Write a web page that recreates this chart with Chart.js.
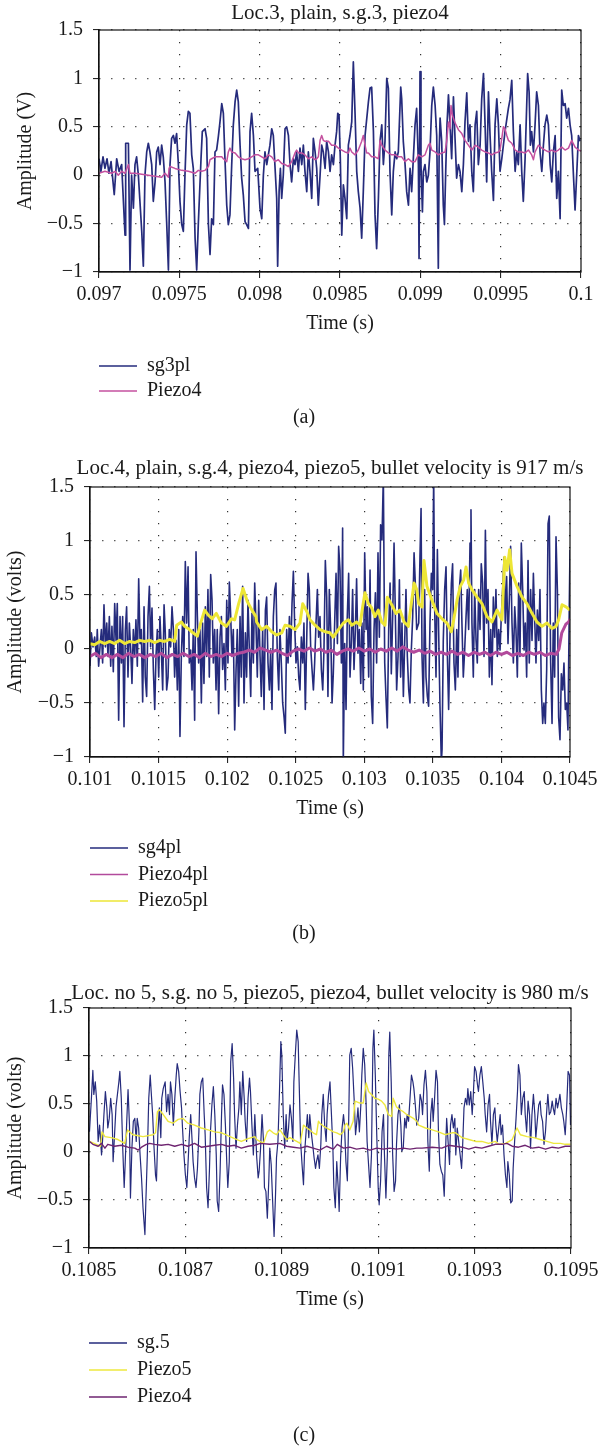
<!DOCTYPE html>
<html>
<head>
<meta charset="utf-8">
<script src="https://cdn.jsdelivr.net/npm/chart.js@4.4.1/dist/chart.umd.min.js"></script>
<style>
  body { margin: 0; background: #fff; width: 613px; height: 1447px; position: relative; overflow: hidden; }
  .panel { position: absolute; left: 0; width: 613px; }
</style>
</head>
<body>
<div class="panel" style="top:0;height:450px"><canvas id="chartA"></canvas></div>
<div class="panel" style="top:450px;height:500px"><canvas id="chartB"></canvas></div>
<div class="panel" style="top:975px;height:472px"><canvas id="chartC"></canvas></div>
<script>
// ---- axes ----
const yTicks = [-1, -0.5, 0, 0.5, 1, 1.5];
const xTicksA = [0.097, 0.0975, 0.098, 0.0985, 0.099, 0.0995, 0.1];
const xTicksB = [0.101, 0.1015, 0.102, 0.1025, 0.103, 0.1035, 0.104, 0.1045];
const xTicksC = [0.1085, 0.1087, 0.1089, 0.1091, 0.1093, 0.1095];

// ---- (a) times in microseconds after 0.097 s, amplitudes in V ----
const startA = 0.097;
const sg3Us = [0,12,25,37,50,62,75,89,95,110,125,141,162,166,183,193,203,214,224,234,245,266,276,286,297,307,317,328,338,349,359,369,380,390,400,411,421,432,442,452,463,473,483,494,504,515,525,535,546,556,566,577,587,598,608,618,635,643,660,670,681,691,701,712,722,732,743,753,764,774,784,795,805,815,826,836,847,857,867,878,888,898,909,919,930,940,950,961,971,988,
1002,1013,1023,1033,1044,1054,1064,1075,1085,1096,1106,1112,1121,1129,1137,1147,1158,1168,1179,1189,1199,1210,1220,1230,1241,1251,1262,1272,1282,1293,1303,1313,1324,1334,1345,1355,1365,1376,1386,1396,1407,1417,1428,1438,1448,1459,1469,1479,1486,1494,1502,1511,1521,1531,1542,1552,1562,1573,1583,1594,1604,1614,1625,1635,1645,1656,1677,1687,1697,1708,1718,1728,1739,1749,1760,1770,1780,1791,1801,1811,1822,1832,1843,1853,1863,1878,1884,1894,1905,1915,1926,1936,1946,
1967,1977,1988,1992,1998,2004,2013,2019,2029,2040,2050,2060,2071,2081,2092,2102,2112,2117,2123,2133,2143,2150,2158,2166,2175,2185,2195,2206,2216,2226,2237,2247,2258,2268,2278,2289,2299,2309,2320,2330,2341,2351,2361,2372,2382,2393,2403,2413,2424,2434,2444,2455,2465,2476,2486,2496,2507,2517,2527,2548,2558,2569,2579,2590,2600,2610,2621,2631,2641,2652,2662,2668,2677,2685,2693,2704,2714,2724,2735,2745,2756,2766,2776,2787,2797,2808,2818,2828,2839,2849,2859,2870,2880,2890,2901,2911,2922,2932,2942,2953,2963,2973,2984,2994];
const sg3Amp = [0.17,0.04,0.19,0.07,0.17,0.02,0.14,-0.10,-0.20,0.17,0.04,0.11,-0.62,0.33,0.33,-0.98,0.00,-0.34,0.11,0.19,0.00,-0.58,-0.94,0.00,0.24,0.33,0.24,0.11,-0.27,-0.07,0.24,0.29,0.11,0.31,0.19,-0.07,-0.48,-0.98,0.11,0.38,0.41,0.33,0.43,0.11,-0.27,-0.51,-0.58,0.00,0.52,0.66,0.64,0.21,0.07,-0.65,-0.98,-0.51,0.17,0.45,0.48,0.38,-0.51,-0.82,-0.45,-0.51,0.24,0.26,0.40,0.55,0.74,0.64,0.17,-0.31,-0.51,-0.41,0.11,0.52,0.76,0.88,0.76,0.31,-0.03,-0.20,-0.48,-0.51,-0.55,0.45,0.64,0.41,0.04,0.07,
-0.34,-0.45,0.00,0.24,0.11,0.21,0.31,0.48,0.41,0.07,-0.24,-0.94,-0.17,0.07,-0.24,0.00,0.48,0.50,0.41,0.11,-0.07,0.17,0.11,0.24,0.04,0.28,0.11,0.31,0.04,-0.17,0.24,0.04,-0.24,0.38,0.24,0.07,-0.31,0.00,0.31,0.24,0.07,0.35,0.24,0.04,0.21,0.11,0.31,0.45,0.64,0.62,0.17,-0.62,-0.10,-0.24,-0.45,0.31,0.41,0.55,1.17,0.62,0.04,-0.17,-0.34,-0.65,-0.17,0.41,0.76,0.90,0.91,0.45,-0.41,-0.76,-0.24,0.35,0.52,0.11,0.35,1.00,0.90,0.04,-0.41,0.04,0.24,0.17,0.24,0.91,0.79,0.35,0.11,-0.17,-0.31,0.07,-0.17,
0.52,0.69,0.11,-0.86,1.07,0.11,-0.38,0.04,0.11,-0.07,0.00,0.24,0.72,0.91,0.72,0.41,-0.96,0.24,0.59,0.35,-0.31,-0.51,0.04,0.52,0.83,0.52,0.17,0.81,0.38,-0.03,0.11,0.04,-0.17,0.11,0.55,0.85,0.35,0.52,0.04,-0.17,0.52,0.66,0.11,0.31,0.79,1.05,0.52,-0.07,0.86,0.41,0.04,-0.26,0.52,0.79,0.52,0.04,0.17,0.31,0.45,0.69,0.78,0.98,0.45,0.04,0.24,0.11,0.52,0.04,-0.27,0.17,0.72,1.05,0.86,0.31,0.45,0.24,0.52,0.86,0.72,0.24,0.04,0.31,0.52,0.62,0.52,0.11,-0.07,0.24,0.41,-0.24,0.04,-0.45,0.88,0.72,0.74,0.59,0.69,0.52,0.41,0.00,-0.36,0.00,0.41,0.35];
const piezo4aUs = [0,37,79,100,120,141,162,183,193,224,266,307,349,390,411,432,436,442,473,515,556,598,618,639,660,681,691,701,722,743,764,774,795,805,815,826,847,867,888,909,930,950,971,992,1013,1033,1054,1075,1096,1116,1137,1158,1179,1199,1220,1230,1241,1262,1282,1303,1324,1345,1355,1365,1376,1386,1396,1407,1428,1448,1469,1490,1511,1531,1552,1562,1573,1594,1614,1635,1645,1656,1666,1677,1697,1718,1739,1749,1760,1780,1801,1822,1843,1863,1884,1905,1926,1946,1967,1988,2009,2029,2050,2060,2071,2092,2112,2133,2154,2164,2175,2185,2191,2200,2216,2237,2258,2278,2299,2320,2341,2361,2382,2403,2424,2444,2465,2486,2496,2507,2517,2527,2538,2548,2569,2590,2610,2631,2652,2673,2693,2704,2714,2735,2756,2776,2797,2818,2839,2859,2880,2901,2922,2942,2963,2984,3000];
const piezo4aAmp = [0.02,0.04,0.02,0.04,0.00,0.04,0.02,0.11,0.02,0.02,0.01,0.00,-0.01,-0.02,0.02,-0.02,0.07,0.09,0.07,0.05,0.04,0.02,0.05,0.04,0.05,0.09,0.16,0.17,0.19,0.19,0.19,0.17,0.14,0.24,0.28,0.24,0.23,0.19,0.17,0.16,0.17,0.19,0.21,0.21,0.19,0.17,0.21,0.19,0.14,0.16,0.12,0.11,0.09,0.14,0.23,0.26,0.23,0.23,0.21,0.17,0.19,0.16,0.17,0.19,0.36,0.41,0.36,0.35,0.35,0.31,0.31,0.28,0.26,0.24,0.23,0.28,0.24,0.21,0.26,0.35,0.41,0.31,0.23,0.23,0.19,0.19,0.17,0.36,0.31,0.26,0.23,0.21,0.21,0.19,0.19,0.14,0.17,0.14,0.14,0.21,0.19,0.21,0.31,0.33,0.26,0.24,0.21,0.23,0.24,0.35,0.55,0.48,0.72,0.62,0.54,0.47,0.43,0.36,0.31,0.26,0.31,0.29,0.26,0.24,0.23,0.21,0.23,0.24,0.26,0.38,0.50,0.48,0.41,0.36,0.33,0.26,0.24,0.24,0.23,0.26,0.21,0.16,0.24,0.31,0.28,0.26,0.24,0.26,0.24,0.26,0.29,0.26,0.28,0.36,0.29,0.26,0.25];

// ---- (b) times in microseconds after 0.101 s, amplitudes in volts ----
const startB = 0.101;
const sg4Us = [0,10,22,34,46,53,63,73,83,92,102,112,122,131,141,151,160,170,180,190,199,209,219,229,238,248,258,267,277,287,297,306,316,326,335,345,355,365,374,384,394,403,413,423,433,442,452,462,472,481,491,501,510,520,530,540,549,559,569,578,588,598,608,617,627,637,647,656,666,676,685,695,705,715,724,734,744,753,763,773,783,792,802,812,821,831,841,851,860,870,880,890,899,909,919,928,938,948,958,967,977,987,997,1006,1016,1026,1035,1045,1055,1065,1074,1084,1094,1103,1113,1123,1133,1142,1152,1162,1172,1181,1191,1201,
1210,1220,1230,1240,1249,1259,1269,1279,1288,1298,1308,1317,1327,1337,1347,1356,1366,1376,1385,1395,1405,1415,1424,1434,1444,1454,1463,1473,1483,1492,1502,1512,1522,1531,1541,1551,1560,1570,1580,1590,1599,1609,1619,1629,1638,1648,1658,1667,1677,1687,1697,1706,1716,1726,1735,1745,1755,1765,1774,1784,1794,1804,1813,1823,1833,1842,1847,1857,1867,1876,1886,1896,1906,1915,1925,1935,1944,1954,1964,1974,1983,1993,2003,2013,2022,2032,2042,2051,2061,2071,2081,2090,2100,2110,2119,2129,2139,2149,2158,2168,2178,2188,2197,2207,2217,2226,2236,2246,2256,2265,2275,2285,2295,2304,2314,2324,2333,2343,2353,2363,2372,2382,
2397,2406,2414,2421,2431,2440,2450,2460,2469,2479,2489,2499,2506,2513,2523,2533,2542,2552,2562,2567,2576,2586,2596,2606,2615,2625,2635,2644,2654,2664,2674,2683,2693,2703,2712,2722,2732,2742,2751,2761,2771,2778,2785,2795,2805,2815,2824,2834,2844,2853,2863,2873,2883,2892,2902,2912,2922,2931,2941,2951,2960,2970,2980,2990,2999,3009,3019,3028,3038,3048,3058,3067,3077,3087,3097,3106,3116,3126,3135,3145,3155,3165,3174,3184,3194,3203,3213,3223,3233,3242,3252,3262,3272,3281,3291,3301,3310,3320,3330,3340,3349,3359,3369,3378,3388,3398,3408,3417,3427,3437,3447,3456,3466,3476,3485,3495,3500];
const sg4Amp = [-0.16,0.15,0.02,0.11,-0.07,0.18,-0.16,0.02,0.18,-0.13,0.41,0.02,0.24,-0.07,0.30,-0.16,0.21,-0.21,0.42,0.08,0.42,-0.66,0.30,-0.13,0.30,-0.72,0.18,0.39,-0.26,0.24,-0.01,-0.32,0.18,-0.07,0.27,-0.16,0.65,0.05,0.18,-0.49,0.39,-0.26,-0.44,0.30,0.58,0.02,0.38,-0.19,-0.56,-0.07,0.18,-0.26,0.30,-0.01,-0.38,0.41,0.15,-0.38,-0.26,0.18,0.02,0.39,0.18,-0.26,0.08,-0.38,0.18,-0.81,-0.07,0.30,-0.07,0.81,0.24,0.76,-0.13,-0.01,-0.38,0.18,-0.66,0.90,0.30,-0.13,0.18,-0.50,0.24,-0.32,0.39,-0.07,0.55,-0.26,0.69,0.45,-0.13,0.18,-0.38,0.18,-0.60,0.11,0.30,-0.19,0.05,-0.38,0.45,-0.13,0.62,0.30,-0.07,0.18,-0.75,-0.19,0.18,-0.53,0.30,-0.26,0.58,-0.50,0.15,-0.26,0.45,-0.01,-0.44,0.33,-0.13,0.61,
0.24,-0.26,0.45,-0.07,-0.44,0.18,-0.56,0.36,0.48,-0.13,-0.38,-0.01,-0.56,0.30,0.55,0.61,-0.07,-0.38,0.18,-0.13,-0.50,-0.63,-0.78,0.18,-0.13,0.30,-0.07,0.42,0.72,0.24,-0.13,0.02,-0.26,-0.38,0.11,-0.13,0.24,-0.56,0.08,0.70,0.55,0.02,-0.19,-0.38,-0.13,0.24,0.55,0.11,0.30,-0.19,-0.38,-0.01,0.82,0.48,-0.44,0.55,0.18,-0.50,-0.23,0.24,0.70,0.05,0.95,0.73,-0.13,1.12,-1.05,0.05,-0.56,0.30,0.70,-0.26,0.08,0.55,-0.19,0.18,0.65,-0.04,0.18,-0.32,0.24,-0.38,0.89,0.18,0.39,-0.26,0.73,-0.44,-0.69,0.18,0.52,-0.13,0.89,0.11,1.15,1.01,1.6,-0.13,-0.44,-0.73,0.18,0.61,-0.23,0.30,0.98,0.36,-0.38,-0.07,0.64,-0.26,0.24,-0.44,0.08,0.55,-0.07,-0.38,-0.50,-0.01,0.30,0.89,0.61,0.18,
0.24,0.85,1.30,-0.07,-0.50,0.55,-0.26,-0.44,-0.53,0.24,0.70,0.55,1.6,0.39,-0.26,0.92,0.18,-0.53,-1.05,-0.93,0.08,0.55,0.76,-0.07,-0.56,0.11,0.61,0.79,-0.13,-0.38,0.18,-0.26,0.55,0.73,0.24,-0.26,-0.01,0.30,0.55,0.18,0.98,1.29,0.24,-0.26,0.55,0.08,-0.13,0.55,0.18,0.79,0.61,-0.07,1.10,0.24,0.55,-0.26,0.18,-0.33,0.48,0.11,0.55,-0.07,0.18,-0.01,0.30,0.55,0.85,0.24,0.67,0.05,0.48,0.95,0.24,-0.13,0.39,0.18,-0.26,0.61,-0.07,0.98,0.55,-0.01,0.24,-0.26,0.82,-0.13,0.55,0.08,0.70,0.30,-0.13,0.36,0.08,0.55,-0.38,-0.69,-0.50,-0.69,-0.19,1.16,1.23,-0.13,-0.69,0.24,-0.26,1.04,0.55,-0.63,-0.84,-0.23,-0.38,-0.13,-0.56,-0.50,-0.75,0.42,0.92];
const piezo4bUs = [0,40,80,120,160,200,240,280,320,360,400,440,480,520,560,600,640,680,720,760,800,840,880,920,960,1000,1040,1080,1120,1160,1200,1240,1280,1320,1360,1400,1440,1480,1520,1560,1600,1640,1680,1720,1760,1800,1840,1880,1920,1960,2000,2040,2080,2120,2160,2200,2240,2280,2320,2360,2400,2440,2480,2520,2560,2600,2640,2680,2720,2760,2800,2840,2880,2920,2960,3000,3040,3080,3120,3160,3200,3240,3280,3320,3360,3400,3420,3440,3470,3490,3500];
const piezo4bAmp = [-0.07,-0.04,-0.08,-0.05,-0.08,-0.05,-0.08,-0.04,-0.07,-0.05,-0.08,-0.05,-0.07,-0.04,-0.08,-0.05,-0.07,-0.04,-0.07,-0.05,-0.08,-0.04,-0.07,-0.05,-0.07,-0.04,-0.06,-0.04,-0.03,-0.01,-0.03,0.01,-0.01,-0.03,-0.01,-0.04,-0.06,-0.02,0.00,-0.02,0.01,-0.02,0.00,-0.03,-0.01,-0.05,-0.02,0.00,-0.02,0.01,-0.02,0.00,-0.03,0.00,-0.02,0.01,-0.02,0.02,-0.01,-0.03,-0.01,-0.04,-0.02,-0.05,-0.03,-0.05,-0.02,-0.05,-0.03,-0.06,-0.03,-0.05,-0.03,-0.06,-0.03,-0.05,-0.03,-0.06,-0.04,-0.06,-0.03,-0.05,-0.03,-0.06,-0.04,-0.05,0.00,0.15,0.23,0.25,0.28];
const piezo5bUs = [0,34,70,107,143,180,216,253,289,326,362,399,435,472,508,544,581,617,632,666,690,715,751,783,807,836,865,890,921,958,994,1031,1055,1084,1116,1147,1181,1210,
1215,1252,1288,1325,1361,1398,1422,1458,1495,1531,1551,1580,1604,1641,1677,1714,1750,1774,1811,1847,1884,1908,1944,1969,1988,2005,2030,2054,2078,2102,2127,2151,2168,2200,2231,2260,2290,2321,2346,2363,2382,
2397,2421,2435,2457,2494,2530,2567,2603,2635,2652,2676,2700,2725,2742,2761,2785,2822,2858,2895,2931,2968,3004,3024,3041,3060,3077,3114,3150,3186,3223,3259,3296,3332,3369,3398,3417,3442,3471,3500];
const piezo5bAmp = [0.05,0.04,0.07,0.05,0.07,0.05,0.08,0.05,0.07,0.06,0.08,0.07,0.08,0.06,0.08,0.07,0.09,0.07,0.22,0.25,0.21,0.19,0.15,0.12,0.24,0.36,0.31,0.28,0.33,0.24,0.21,0.28,0.27,0.42,0.56,0.44,0.36,0.30,
0.25,0.18,0.21,0.16,0.13,0.15,0.22,0.21,0.18,0.24,0.42,0.35,0.27,0.22,0.18,0.16,0.15,0.11,0.18,0.24,0.27,0.22,0.25,0.22,0.39,0.52,0.42,0.38,0.30,0.36,0.25,0.22,0.48,0.41,0.33,0.36,0.25,0.21,0.45,0.61,0.55,
0.42,0.39,0.82,0.58,0.45,0.33,0.28,0.24,0.16,0.27,0.45,0.58,0.64,0.76,0.61,0.55,0.48,0.42,0.30,0.25,0.36,0.27,0.85,0.73,0.92,0.70,0.58,0.48,0.42,0.33,0.25,0.21,0.24,0.19,0.21,0.27,0.41,0.39,0.36];

// ---- (c) times in microseconds after 0.1085 s, amplitudes in volts ----
const startC = 0.1085;
const sg5Us = [1,5,8,10,13,16,19,22,26,28,31,34,37,39,42,45,48,50,53,56,59,62,64,67,70,73,75,78,81,84,86,89,92,95,98,100,103,106,109,112,116,118,121,124,127,129,132,135,138,140,143,146,149,151,154,158,161,164,167,169,172,175,178,181,183,186,189,192,194,197,200,203,205,208,211,214,216,219,222,225,228,230,233,236,239,241,244,247,250,252,255,258,261,264,266,269,272,275,277,280,283,286,288,291,294,297,300,302,305,308,311,313,316,319,322,324,327,330,333,335,338,341,344,
348,351,353,356,359,362,364,367,370,373,375,378,381,384,387,389,392,395,398,400,403,406,409,411,414,417,420,423,425,428,431,434,436,439,442,445,447,450,453,456,458,461,464,467,470,472,475,478,481,483,486,489,492,494,497,500,503,506,508,511,514,517,519,522,525,528,530,533,536,539,541,544,547,550,553,555,558,561,564,566,569,572,575,577,580,583,586,589,591,594,597,600,602,605,608,611,613,616,619,622,624,627,630,633,636,638,641,644,647,649,652,655,658,660,663,666,669,672,674,677,680,
684,687,690,692,695,698,701,703,706,709,712,714,717,720,723,725,728,731,734,737,739,742,745,748,750,753,756,759,761,764,767,770,773,775,778,781,784,786,789,792,795,797,800,803,806,808,811,814,817,820,822,825,828,831,833,836,839,842,844,847,850,853,855,858,861,864,867,869,872,875,878,880,883,886,889,891,894,897,900,903,905,908,911,914,916,919,922,925,927,930,933,936,938,941,944,947,950,952,955,958,961,963,966,969,972,974,977,980,983,985,988,991,994,997,999];
const sg5Amp = [0.21,0.56,0.85,0.60,0.73,0.53,0.11,0.28,-0.03,0.11,0.39,0.63,0.46,0.25,0.35,0.56,0.39,-0.10,0.18,0.47,0.60,0.73,0.84,0.56,0.04,-0.37,-0.13,0.28,0.65,0.28,-0.48,0.04,0.32,0.35,0.11,0.35,0.25,-0.03,-0.27,-0.58,-0.86,-0.51,-0.03,0.56,0.80,0.63,0.39,0.04,-0.24,-0.30,0.21,0.46,0.15,0.56,0.66,0.73,0.42,0.60,0.39,0.73,0.60,0.28,0.56,0.80,0.92,0.84,0.63,0.46,0.25,-0.03,-0.24,-0.37,-0.17,0.15,0.39,0.11,-0.10,-0.27,-0.37,-0.17,0.21,0.60,0.73,0.77,0.39,0.18,-0.37,-0.58,-0.17,0.21,0.49,0.68,0.39,-0.03,-0.51,-0.62,-0.20,0.39,0.70,0.60,0.28,-0.13,-0.37,-0.10,0.94,1.13,0.77,0.39,0.04,0.28,0.46,0.73,0.39,0.84,0.56,0.32,0.11,0.56,0.77,0.63,0.28,-0.03,0.39,
-0.06,-0.27,-0.20,0.04,0.39,0.11,-0.37,-0.41,-0.69,-0.30,0.04,-0.13,-0.51,-0.88,-0.44,-0.06,0.11,0.60,1.15,1.01,0.39,0.04,0.39,0.11,0.25,0.49,0.35,0.11,0.73,1.01,1.27,1.15,0.73,0.11,-0.13,-0.34,-0.03,0.18,0.39,0.15,0.39,0.21,0.08,-0.06,-0.17,-0.10,-0.03,-0.17,0.08,0.39,0.60,0.28,0.11,0.39,0.60,0.73,0.39,0.04,-0.37,-0.58,-0.10,-0.37,-0.62,-0.06,0.25,0.39,0.28,-0.10,-0.30,0.39,1.01,1.08,0.87,0.56,0.18,0.28,0.46,0.21,0.49,0.80,1.08,0.91,0.49,0.11,-0.13,-0.37,-0.03,1.08,1.27,0.80,0.18,-0.37,-0.55,-0.30,0.21,0.39,-0.03,-0.48,-0.03,1.01,1.25,0.73,-0.03,-0.41,-0.30,0.08,0.39,0.49,0.28,0.01,0.04,0.35,0.25,0.39,0.32,0.56,0.80,0.73,0.66,0.49,0.28,
0.35,0.60,0.53,0.39,0.70,0.85,0.63,0.11,-0.20,0.39,0.56,0.32,0.56,0.85,0.73,0.21,-0.13,-0.20,-0.24,-0.46,-0.10,0.35,0.11,-0.13,0.28,0.39,0.25,0.35,-0.03,0.25,0.11,-0.03,-0.17,0.04,0.46,0.56,0.49,0.66,0.49,0.63,0.39,0.56,0.89,0.84,0.70,0.63,0.80,0.89,0.73,0.56,0.39,0.21,0.49,0.60,0.32,0.08,0.39,0.46,0.28,0.11,0.25,0.39,0.18,0.28,-0.03,-0.24,-0.37,-0.10,-0.24,-0.53,-0.51,-0.17,0.11,0.35,0.63,0.91,0.80,0.39,0.56,0.63,0.39,0.21,0.53,0.39,0.04,0.39,0.60,0.39,0.15,0.32,0.49,0.53,0.39,0.32,0.08,0.21,0.46,0.60,0.39,0.42,0.53,0.46,0.39,0.56,0.46,0.51,0.60,0.46,0.39,0.32,0.18,0.46,0.84,0.80,0.28];
const piezo5cUs = [1,15,24,27,33,46,60,74,80,91,112,133,138,142,146,154,164,174,185,195,205,219,233,247,261,275,288,302,316,330,344,
348,362,370,375,382,389,396,403,410,417,424,431,438,445,452,458,465,472,476,479,486,493,500,507,514,521,528,531,535,541,548,552,562,569,575,580,586,593,600,607,614,621,628,631,638,645,652,659,666,673,680,
684,698,712,725,739,753,760,774,788,802,815,829,843,850,864,878,888,895,909,923,936,950,964,978,988,999];
const piezo5cAmp = [0.11,0.08,0.06,0.21,0.16,0.15,0.13,0.09,0.23,0.18,0.16,0.18,0.20,0.42,0.44,0.39,0.32,0.30,0.34,0.35,0.30,0.28,0.25,0.23,0.21,0.20,0.17,0.14,0.11,0.14,0.16,
0.13,0.09,0.21,0.23,0.20,0.18,0.23,0.18,0.13,0.15,0.13,0.11,0.09,0.28,0.25,0.23,0.20,0.18,0.32,0.30,0.27,0.25,0.23,0.21,0.20,0.18,0.21,0.28,0.30,0.23,0.32,0.53,0.51,0.51,0.72,0.63,0.60,0.56,0.55,0.53,0.49,0.39,0.37,0.56,0.47,0.44,0.42,0.39,0.37,0.35,0.32,
0.28,0.25,0.23,0.21,0.18,0.20,0.20,0.15,0.13,0.11,0.11,0.09,0.11,0.08,0.09,0.13,0.25,0.18,0.16,0.15,0.13,0.11,0.09,0.09,0.08,0.08];
const piezo4cUs = [1,8,19,26,33,39,53,67,81,95,102,109,119,126,136,150,164,178,192,205,219,233,247,261,275,288,302,316,330,344,
355,375,396,410,424,438,452,465,479,493,507,515,528,541,555,569,583,597,611,624,638,652,666,680,
691,712,732,746,760,774,788,802,815,829,843,857,867,878,891,905,919,933,947,961,974,988,999];
const piezo4cAmp = [0.11,0.08,0.06,0.09,0.04,0.08,0.06,0.07,0.05,0.04,0.02,0.05,0.08,0.09,0.08,0.07,0.08,0.06,0.08,0.06,0.09,0.05,0.06,0.07,0.08,0.06,0.07,0.04,0.06,0.07,
0.09,0.08,0.09,0.06,0.05,0.04,0.06,0.04,0.02,0.06,0.03,0.08,0.04,0.05,0.03,0.04,0.02,0.04,0.03,0.04,0.03,0.04,0.03,0.04,
0.04,0.05,0.04,0.07,0.06,0.05,0.03,0.05,0.04,0.06,0.08,0.08,0.09,0.06,0.05,0.07,0.04,0.05,0.03,0.05,0.04,0.06,0.06];

// ---- helpers ----
Chart.defaults.font.family = '"Liberation Serif", "Times New Roman", serif';
Chart.defaults.color = '#1a1a1a';

const toPoints = (t0, us, amp) => us.slice(0, amp.length).map((u, i) => ({ x: t0 + u * 1e-6, y: amp[i] }));
const fmtY = v => (v < 0 ? '\u2212' + Math.abs(v) : String(v));

// frame, title, legend and caption drawn on the canvas
const panelDecor = {
  id: 'panelDecor',
  afterDraw(chart, args, o) {
    const { ctx, chartArea: a } = chart;
    ctx.save();
    ctx.strokeStyle = '#111';
    ctx.lineWidth = 1.2;
    ctx.strokeRect(a.left, a.top, a.right - a.left, a.bottom - a.top);
    ctx.fillStyle = '#1a1a1a';
    ctx.textBaseline = 'middle';
    ctx.textAlign = 'center';
    ctx.font = '21px "Liberation Serif"';
    ctx.fillText(o.title, (a.left + a.right) / 2, o.titleY);
    ctx.font = '20px "Liberation Serif"';
    ctx.textAlign = 'left';
    chart.data.datasets.forEach((ds, i) => {
      const y = o.legendY + i * o.legendGap;
      ctx.strokeStyle = ds.borderColor;
      ctx.lineWidth = 1.6;
      ctx.beginPath();
      ctx.moveTo(a.left, y);
      ctx.lineTo(a.left + 38, y);
      ctx.stroke();
      ctx.fillText(ds.label, a.left + 48, y);
    });
    ctx.textAlign = 'center';
    ctx.fillText(o.caption, 304, o.captionY);
    ctx.restore();
  }
};

function makeChart(id, cfg) {
  const grid = { color: '#333', lineWidth: 1.2, drawTicks: true, tickLength: 6, tickColor: '#111', tickWidth: 1 };
  const border = { display: true, color: '#111', width: 1.2, dash: [1.2, 10.8] };
  return new Chart(document.getElementById(id), {
    type: 'line',
    data: {
      datasets: cfg.series.map(s => ({
        label: s.label, data: s.points, borderColor: s.color, borderWidth: s.width, order: s.order,
        pointRadius: 0, tension: 0, fill: false, borderJoinStyle: 'round'
      }))
    },
    options: {
      responsive: true,
      maintainAspectRatio: false,
      animation: false,
      events: [],
      parsing: false,
      layout: { padding: cfg.padding },
      plugins: { legend: { display: false }, tooltip: { enabled: false }, panelDecor: cfg.decor },
      scales: {
        x: {
          type: 'linear', min: cfg.xTicks[0], max: cfg.xTicks[cfg.xTicks.length - 1],
          afterBuildTicks: s => { s.ticks = cfg.xTicks.map(v => ({ value: v })); },
          afterFit: s => { s.height = 64; },
          ticks: { autoSkip: false, maxRotation: 0, padding: 5, font: { size: 20 }, callback: v => String(v) },
          grid, border,
          title: { display: true, text: 'Time (s)', font: { size: 20 }, padding: { top: 0, bottom: 0 } }
        },
        y: {
          min: -1, max: 1.5,
          afterBuildTicks: s => { s.ticks = yTicks.map(v => ({ value: v })); },
          afterFit: s => { s.width = cfg.yWidth; },
          ticks: { padding: 10, font: { size: 20 }, callback: fmtY },
          grid, border,
          title: { display: true, text: cfg.yTitle, font: { size: 20 }, padding: { top: cfg.yTitlePad, bottom: 0 } }
        }
      }
    },
    plugins: [panelDecor]
  });
}

const navy = '#252b7c';

makeChart('chartA', {
  xTicks: xTicksA, yWidth: 99, yTitle: 'Amplitude (V)', yTitlePad: 14,
  padding: { top: 30, right: 32, bottom: 114, left: 0 },
  series: [
    { label: 'sg3pl', points: toPoints(startA, sg3Us, sg3Amp), color: navy, width: 1.7, order: 2 },
    { label: 'Piezo4', points: toPoints(startA, piezo4aUs, piezo4aAmp), color: '#c4519f', width: 1.5, order: 1 }
  ],
  decor: { title: 'Loc.3, plain, s.g.3, piezo4', titleY: 13, legendY: 366, legendGap: 25, caption: '(a)', captionY: 418 }
});

makeChart('chartB', {
  xTicks: xTicksB, yWidth: 90, yTitle: 'Amplitude (volts)', yTitlePad: 4,
  padding: { top: 37, right: 43, bottom: 129, left: 0 },
  series: [
    { label: 'sg4pl', points: toPoints(startB, sg4Us, sg4Amp), color: navy, width: 1.6, order: 3 },
    { label: 'Piezo4pl', points: toPoints(startB, piezo4bUs, piezo4bAmp), color: '#b24a9c', width: 3, order: 2 },
    { label: 'Piezo5pl', points: toPoints(startB, piezo5bUs, piezo5bAmp), color: '#ede636', width: 3, order: 1 }
  ],
  decor: { title: 'Loc.4, plain, s.g.4, piezo4, piezo5, bullet velocity is 917 m/s', titleY: 18, legendY: 398, legendGap: 26.5, caption: '(b)', captionY: 484 }
});

makeChart('chartC', {
  xTicks: xTicksC, yWidth: 89, yTitle: 'Amplitude (volts)', yTitlePad: 4,
  padding: { top: 33, right: 42, bottom: 135, left: 0 },
  series: [
    { label: 'sg.5', points: toPoints(startC, sg5Us, sg5Amp), color: navy, width: 1.2, order: 3 },
    { label: 'Piezo5', points: toPoints(startC, piezo5cUs, piezo5cAmp), color: '#eee83e', width: 1.4, order: 2 },
    { label: 'Piezo4', points: toPoints(startC, piezo4cUs, piezo4cAmp), color: '#6e2470', width: 1.4, order: 1 }
  ],
  decor: { title: 'Loc. no 5, s.g. no 5, piezo5, piezo4, bullet velocity is 980 m/s', titleY: 18, legendY: 368, legendGap: 27, caption: '(c)', captionY: 461 }
});
</script>
</body>
</html>
